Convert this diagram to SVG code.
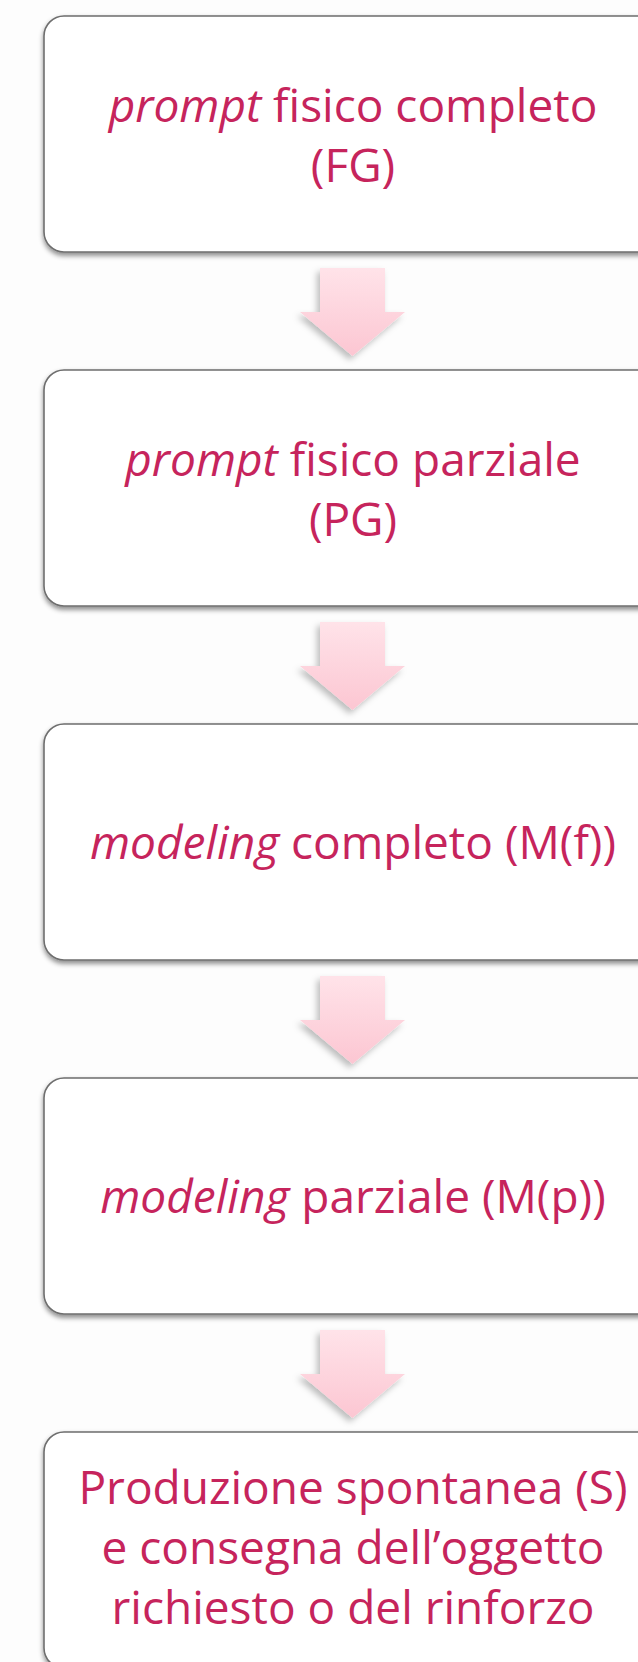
<svg xmlns="http://www.w3.org/2000/svg" width="638" height="1662" viewBox="0 0 638 1662">
<style>
.box{fill:#ffffff;stroke:#6e6e6e;stroke-width:1.6;filter:url(#sh)}
.t{font-family:"Open Sans","Noto Sans",sans-serif;font-size:46px;fill:#C6245C;text-anchor:middle}
.i{font-style:italic}
.arr{fill:url(#pg);filter:url(#ash)}
</style>
<defs>
<filter id="sh" x="-10%" y="-10%" width="120%" height="130%">
<feDropShadow dx="0" dy="3" stdDeviation="2.5" flood-color="#000" flood-opacity="0.45"/>
</filter>
<filter id="ash" x="-30%" y="-30%" width="160%" height="160%">
<feDropShadow dx="-3" dy="4" stdDeviation="3" flood-color="#000" flood-opacity="0.25"/>
</filter>
<linearGradient id="pg" x1="0" y1="0" x2="0" y2="1">
<stop offset="0" stop-color="#FFE3E9"/>
<stop offset="1" stop-color="#FCC6D2"/>
</linearGradient>
</defs>
<rect width="638" height="1662" fill="#FDFDFD"/>
<g id="connectors">
<polygon class="arr" points="320,268 385,268 385,312 405,312 352.5,356 300,312 320,312"/>
<polygon class="arr" points="320,622 385,622 385,666 405,666 352.5,710 300,666 320,666"/>
<polygon class="arr" points="320,976 385,976 385,1020 405,1020 352.5,1064 300,1020 320,1020"/>
<polygon class="arr" points="320,1330 385,1330 385,1374 405,1374 352.5,1418 300,1374 320,1374"/>
</g>
<g id="node1">
<rect class="box" x="44" y="16" width="618" height="236" rx="20"/>
<text class="t" x="353" y="122"><tspan class="i">prompt</tspan> fisico completo</text>
<text class="t" x="353" y="182">(FG)</text>
</g>
<g id="node2">
<rect class="box" x="44" y="370" width="618" height="236" rx="20"/>
<text class="t" x="353" y="476"><tspan class="i">prompt</tspan> fisico parziale</text>
<text class="t" x="353" y="536">(PG)</text>
</g>
<g id="node3">
<rect class="box" x="44" y="724" width="618" height="236" rx="20"/>
<text class="t" x="353" y="859"><tspan class="i">modeling</tspan> completo (M(f))</text>
</g>
<g id="node4">
<rect class="box" x="44" y="1078" width="618" height="236" rx="20"/>
<text class="t" x="353" y="1213"><tspan class="i">modeling</tspan> parziale (M(p))</text>
</g>
<g id="node5">
<rect class="box" x="44" y="1432" width="618" height="236" rx="20"/>
<text class="t" x="353" y="1504">Produzione spontanea (S)</text>
<text class="t" x="353" y="1564">e consegna dell’oggetto</text>
<text class="t" x="353" y="1624">richiesto o del rinforzo</text>
</g>
</svg>
